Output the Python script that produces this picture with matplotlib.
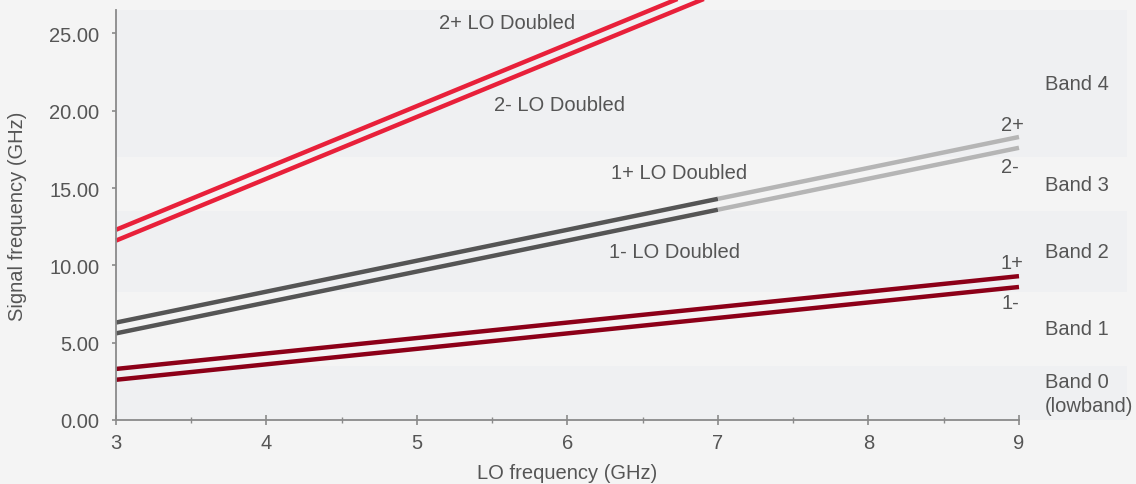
import matplotlib.pyplot as plt
from matplotlib.ticker import MultipleLocator, FormatStrFormatter

plt.rcParams['font.family'] = ['Liberation Sans', 'DejaVu Sans']

#%% Data
lo = [3, 4, 5, 6, 7, 8, 9]
h1_plus = [3.3, 4.3, 5.3, 6.3, 7.3, 8.3, 9.3]
h1_minus = [2.6, 3.6, 4.6, 5.6, 6.6, 7.6, 8.6]
h2_plus = [6.3, 8.3, 10.3, 12.3, 14.3, 16.3, 18.3]
h2_minus = [5.6, 7.6, 9.6, 11.6, 13.6, 15.6, 17.6]
lo_dbl = [3, 4, 5, 6, 7]
h4_plus = [12.3, 16.3, 20.3, 24.3, 28.3]
h4_minus = [11.6, 15.6, 19.6, 23.6, 27.6]

band_names = ['Band 0\n(lowband)', 'Band 1', 'Band 2', 'Band 3', 'Band 4']
band_edges = [0, 3.5, 8.3, 13.5, 17.0, 26.5]

#%% Styles
bg = '#f4f4f4'
band_dark = '#eff0f2'
txt = '#555555'
c_red = '#e8203a'
c_dred = '#8c0018'
c_dgrey = '#555555'
c_lgrey = '#b5b5b5'
fs = 14.5

fig = plt.figure(figsize=(11.36, 4.85), dpi=100, facecolor=bg)
ax = fig.add_axes([0.1021, 0.132, 0.7949, 0.845])
ax.set_facecolor(bg)
ax.set_xlim(3, 9)
ax.set_ylim(0, band_edges[-1])

# bands (extend past the right edge of the axes)
for i, name in enumerate(band_names):
    lo_y, hi_y = band_edges[i], band_edges[i + 1]
    if i % 2 == 0:
        ax.fill_between([3, 9.72], lo_y, hi_y, color=band_dark, lw=0,
                        clip_on=False, zorder=0)
    ax.text(9.17, (lo_y + hi_y) / 2 + (-0.05 if i == 0 else 0), name,
            ha='left', va='center', fontsize=fs, color=txt, linespacing=1.3)

lw = 3.2
# LO doubled, 4th harmonic
ax.plot(lo_dbl, h4_plus, color=c_red, lw=lw, clip_on=False, solid_capstyle='butt')
ax.plot(lo_dbl, h4_minus, color=c_red, lw=lw, clip_on=False, solid_capstyle='butt')
# 2nd harmonic: dark up to 7 GHz, light after
split = lo.index(7)
for ys in (h2_plus, h2_minus):
    ax.plot(lo[:split + 1], ys[:split + 1], color=c_dgrey, lw=lw, solid_capstyle='butt')
    ax.plot(lo[split:], ys[split:], color=c_lgrey, lw=lw, solid_capstyle='butt', clip_on=False)
# fundamental
ax.plot(lo, h1_plus, color=c_dred, lw=lw, clip_on=False, solid_capstyle='butt')
ax.plot(lo, h1_minus, color=c_dred, lw=lw, clip_on=False, solid_capstyle='butt')

# labels
ax.text(5.6, 25.7, '2+ LO Doubled', ha='center', va='center', fontsize=fs, color=txt)
ax.text(5.95, 20.4, '2- LO Doubled', ha='center', va='center', fontsize=fs, color=txt)
ax.text(6.74, 16.0, '1+ LO Doubled', ha='center', va='center', fontsize=fs, color=txt)
ax.text(6.71, 10.9, '1- LO Doubled', ha='center', va='center', fontsize=fs, color=txt)
ax.text(9.03, 19.1, '2+', ha='right', va='center', fontsize=fs, color=txt)
ax.text(9.0, 16.4, '2-', ha='right', va='center', fontsize=fs, color=txt)
ax.text(9.03, 10.2, '1+', ha='right', va='center', fontsize=fs, color=txt)
ax.text(9.0, 7.6, '1-', ha='right', va='center', fontsize=fs, color=txt)

# axes
for s in ('top', 'right'):
    ax.spines[s].set_visible(False)
for s in ('left', 'bottom'):
    ax.spines[s].set_color('#8a8a8a')
    ax.spines[s].set_linewidth(1.3)

ax.xaxis.set_major_locator(MultipleLocator(1))
ax.xaxis.set_minor_locator(MultipleLocator(0.5))
ax.yaxis.set_major_locator(MultipleLocator(5))
ax.yaxis.set_major_formatter(FormatStrFormatter('%.2f'))
ax.tick_params(axis='x', which='major', direction='inout', length=7, width=1.2,
               color='#8a8a8a', labelsize=fs, labelcolor=txt, pad=6)
ax.tick_params(axis='x', which='minor', direction='inout', length=4, width=1,
               color='#8a8a8a')
ax.tick_params(axis='y', which='major', direction='out', length=3, width=1.2,
               color='#8a8a8a', labelsize=fs, labelcolor=txt, pad=9)

ax.set_xlabel('LO frequency (GHz)', fontsize=fs, color=txt, labelpad=8)
ax.set_ylabel('Signal frequency (GHz)', fontsize=fs, color=txt, labelpad=16)

fig.savefig('out.png', dpi=100, facecolor=bg)
